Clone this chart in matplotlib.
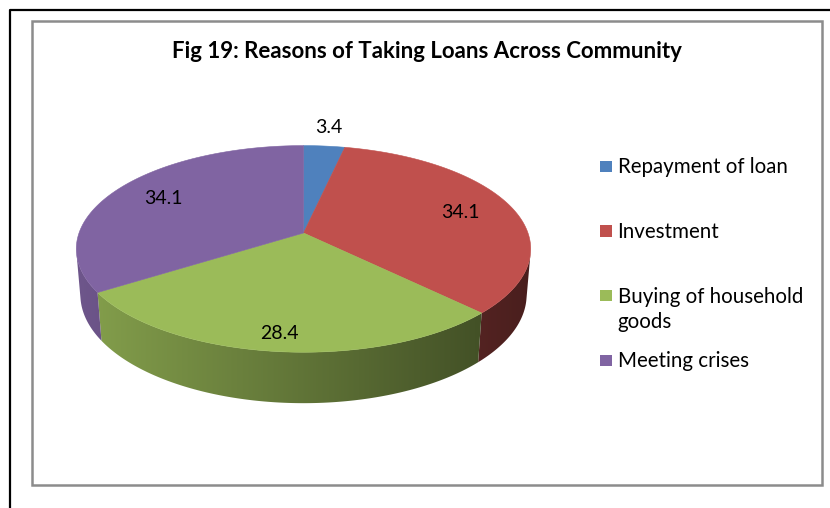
import numpy as np
import matplotlib
matplotlib.use("Agg")
import matplotlib.pyplot as plt
from matplotlib.patches import Polygon, Rectangle

# --- data -------------------------------------------------------------
title = "Fig 19: Reasons of Taking Loans Across Community"
categories = ["Repayment of loan", "Investment", "Buying of household\ngoods", "Meeting crises"]
values = [3.4, 34.1, 28.4, 34.1]
colors = ["#4F81BD", "#C0504D", "#9BBB59", "#8064A2"]

# --- 3-D pie geometry (perspective camera) ------------------------------
elev = np.radians(26.7)     # camera elevation
dist = 5.8                  # camera distance in pie radii
thick = 0.23                # pie thickness in pie radii
scale = 1302.0              # pixels per projected unit
cx, cy = 303.5, 233.0       # pixel position of pie centre
se, ce = np.sin(elev), np.cos(elev)


def project(x, y, z):
    """Perspective projection of world points (x right, y away, z up) to pixels."""
    vx = x
    vy = y + dist * ce
    vz = z - dist * se
    depth = vy * ce - vz * se
    up = vy * se + vz * ce
    return cx + scale * vx / depth, cy - scale * up / depth


fig = plt.figure(figsize=(8.30, 5.08), dpi=100)
ax = fig.add_axes([0, 0, 1, 1])

# page frame and chart-area border
ax.plot([10, 10, 830], [508, 9.5, 9.5], color="black", lw=1.6, solid_capstyle="butt")
ax.add_patch(Rectangle((31.5, 20.5), 790, 464, fill=False, ec="#8C8C8C", lw=1.8))

ax.text(427, 58, title, ha="center", va="baseline", fontsize=16,
        fontweight="bold", family="Lato", color="black")

# slice angles: start at 12 o'clock, run clockwise
total = float(sum(values))
sweeps = [v / total * 360.0 for v in values]
starts = 90.0 - np.concatenate([[0.0], np.cumsum(sweeps)[:-1]])
ends = starts - np.array(sweeps)

# horizontal extent of pie in pixels (for side lighting)
ring = np.radians(np.linspace(0, 360, 721))
rx, _ = project(np.cos(ring), np.sin(ring), 0 * ring)
xmin, xmax = rx.min(), rx.max()
shade_left, shade_right = 0.86, 0.38
ramp = np.linspace(shade_left, shade_right, 512)

# outer walls: only the part facing the camera, lit by a left-to-right gradient
limit = -1.0 / (dist * ce)
for a0, a1, col in zip(starts, ends, colors):
    th = np.radians(np.linspace(a0, a1, int(abs(a1 - a0) * 4) + 2))
    vis = np.sin(th) < limit
    if vis.sum() < 2:
        continue
    tv = th[vis]
    tx, ty = project(np.cos(tv), np.sin(tv), 0 * tv)
    bx, by = project(np.cos(tv), np.sin(tv), 0 * tv - thick)
    outline = np.vstack([np.column_stack([tx, ty]),
                         np.column_stack([bx[::-1], by[::-1]])])
    wall = Polygon(outline, closed=True, fc="none", ec="none")
    ax.add_patch(wall)
    rgb = np.array(matplotlib.colors.to_rgb(col))
    grad = np.clip(ramp[None, :, None] * rgb[None, None, :], 0, 1)
    img = ax.imshow(grad, extent=(xmin, xmax, by.max() + 2, ty.min() - 2),
                    aspect="auto", interpolation="bilinear", zorder=1)
    img.set_clip_path(wall)

# top faces
for a0, a1, col in zip(starts, ends, colors):
    th = np.radians(np.linspace(a0, a1, int(abs(a1 - a0) * 2) + 2))
    px, py = project(np.cos(th), np.sin(th), 0 * th)
    ox, oy = project(0.0, 0.0, 0.0)
    pts = np.vstack([[ox, oy], np.column_stack([px, py])])
    ax.add_patch(Polygon(pts, closed=True, fc=col, ec=col, lw=0.4, zorder=2))

# value labels: small slices outside, large ones inside (pushed out toward the viewer)
for a0, a1, v in zip(starts, ends, values):
    mid = np.radians(0.5 * (a0 + a1))
    if v < 5:
        r = 1.25
    else:
        r = 0.75 + 0.12 * max(0.0, -np.sin(mid))
    lx, ly = project(r * np.cos(mid), r * np.sin(mid), 0)
    ax.text(lx, ly, f"{v:.1f}", ha="center", va="center", fontsize=14,
            family="Lato", color="black", zorder=3)

# legend (wrapped labels drawn line by line under the first)
leg_x, leg_y0, leg_step, line_gap = 600, 166.0, 64.7, 25.5
for i, (lab, col) in enumerate(zip(categories, colors)):
    yy = leg_y0 + i * leg_step
    ax.add_patch(Rectangle((leg_x, yy - 5.5), 11.5, 11.5, fc=col, ec="none"))
    for k, line in enumerate(lab.split("\n")):
        ax.text(leg_x + 17.5, yy + 7.3 + k * line_gap, line, ha="left",
                va="baseline", fontsize=14.8, family="Lato", color="black")

ax.set_xlim(0, 830)
ax.set_ylim(508, 0)
ax.axis("off")

fig.savefig("out.png", dpi=100, facecolor="white")
